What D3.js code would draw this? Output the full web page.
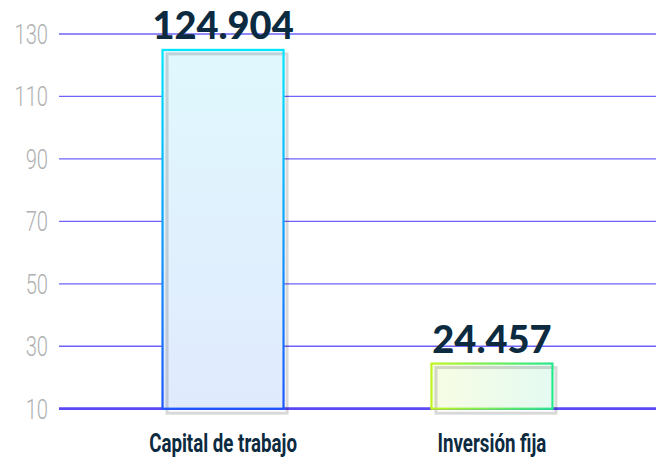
<!DOCTYPE html>
<html>
<head>
<meta charset="utf-8">
<script src="https://cdn.jsdelivr.net/npm/d3@7"></script>
<style>
  body { margin: 0; background: #fff; }
</style>
</head>
<body>
<div id="grafico"></div>
<script>
const categorias = ["Capital de trabajo", "Inversión fija"];
const valores = [124.904, 24.457];
const etiquetas = ["124.904", "24.457"];
const ticks = [10, 30, 50, 70, 90, 110, 130];

const ancho = 656, alto = 466;
const margin = { left: 59 };

const svg = d3.select("#grafico")
    .append("svg")
    .attr("width", ancho)
    .attr("height", alto);

// Escalas
const x = d3.scaleBand()
    .domain(categorias)
    .range([margin.left, ancho])
    .paddingInner(0.55)
    .paddingOuter(0.385);

const y = d3.scaleLinear()
    .domain([10, 130])
    .range([408.7, 34]);

// Degradados
const defs = svg.append("defs");
function degradado(id, x2, y2, c1, c2) {
    const g = defs.append("linearGradient")
        .attr("id", id)
        .attr("x1", 0).attr("y1", 0)
        .attr("x2", x2).attr("y2", y2);
    g.append("stop").attr("offset", "0%").attr("stop-color", c1);
    g.append("stop").attr("offset", "100%").attr("stop-color", c2);
}
degradado("borde0", 0, 1, "#00e6ff", "#1d55ff");
degradado("relleno0", 0, 1, "#e0f8fd", "#e0eafd");
degradado("borde1", 1, 0, "#c0f522", "#25e88c");
degradado("relleno1", 1, 0, "#f8fde4", "#e4faf1");

// Líneas de la grilla
svg.append("g")
    .selectAll("line")
    .data(ticks)
    .enter()
    .append("line")
    .attr("x1", margin.left)
    .attr("x2", ancho)
    .attr("y1", d => y(d))
    .attr("y2", d => y(d))
    .attr("stroke", d => d === 10 ? "#5a48f5" : "#6e62fa")
    .attr("stroke-width", d => d === 10 ? 2.7 : 1.3);

// Etiquetas eje Y (fuente estrecha simulada)
svg.append("g")
    .selectAll("text")
    .data(ticks)
    .enter()
    .append("text")
    .attr("transform", d => `translate(48, ${y(d) + 10}) scale(0.72, 1)`)
    .attr("text-anchor", "end")
    .attr("font-family", "Roboto, sans-serif")
    .attr("font-weight", 300)
    .attr("font-size", 28)
    .attr("fill", "#b0b0b0")
    .text(d => d);

// Barras
const barras = svg.append("g")
    .selectAll("g")
    .data(valores)
    .enter()
    .append("g");

barras.append("rect")
    .attr("x", (d, i) => x(categorias[i]))
    .attr("y", d => y(d))
    .attr("width", x.bandwidth())
    .attr("height", d => y(10) - y(d))
    .attr("fill", (d, i) => `url(#relleno${i})`);

// sombra gris
barras.append("rect")
    .attr("x", (d, i) => x(categorias[i]) + 4.5)
    .attr("y", d => y(d) + 4)
    .attr("width", x.bandwidth() - 1)
    .attr("height", d => y(10) - y(d) + 0.5)
    .attr("fill", "none")
    .attr("stroke", "rgba(0,0,0,0.15)")
    .attr("stroke-width", 3);

barras.append("rect")
    .attr("x", (d, i) => x(categorias[i]))
    .attr("y", d => y(d))
    .attr("width", x.bandwidth())
    .attr("height", d => y(10) - y(d))
    .attr("fill", "none")
    .attr("stroke", (d, i) => `url(#borde${i})`)
    .attr("stroke-width", 2.2);

// Valores
barras.append("text")
    .attr("x", (d, i) => x(categorias[i]) + x.bandwidth() / 2)
    .attr("y", d => y(d) - 11)
    .attr("text-anchor", "middle")
    .attr("font-family", "Lato, 'Open Sans', sans-serif")
    .attr("font-weight", 900)
    .attr("font-size", 38)
    .attr("fill", "#0c2a40")
    .text((d, i) => etiquetas[i]);

// Categorías (fuente condensada simulada)
svg.append("g")
    .selectAll("text")
    .data(categorias)
    .enter()
    .append("text")
    .attr("transform", d => `translate(${x(d) + x.bandwidth() / 2}, 452) scale(0.72, 1)`)
    .attr("text-anchor", "middle")
    .attr("font-family", "Roboto, sans-serif")
    .attr("font-weight", "bold")
    .attr("font-size", 26)
    .attr("fill", "#0c2a40")
    .text(d => d);
</script>
</body>
</html>
